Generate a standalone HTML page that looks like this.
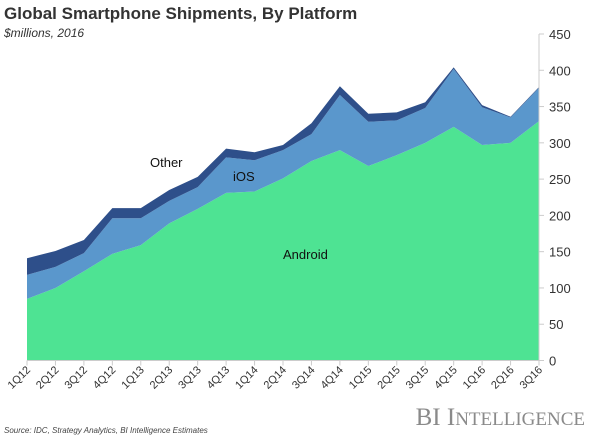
<!DOCTYPE html>
<html><head><meta charset="utf-8"><style>
body{margin:0;background:#fff;}
svg text{font-family:"Liberation Sans",sans-serif;}
</style></head><body>
<svg width="600" height="438" xmlns="http://www.w3.org/2000/svg">
<text x="4" y="19" font-size="17" font-weight="bold" fill="#333">Global Smartphone Shipments, By Platform</text>
<text x="4" y="37" font-size="12" font-style="italic" fill="#333">$millions, 2016</text>
<g id="plot"></g>
<text x="4" y="433" font-size="8" font-style="italic" fill="#444">Source: IDC, Strategy Analytics, BI Intelligence Estimates</text>
<text x="585" y="425" font-size="25" text-anchor="end" fill="#8a8a8a" font-family="Liberation Serif, serif" style="font-family:'Liberation Serif',serif">BI I<tspan font-size="19">NTELLIGENCE</tspan></text>
</svg>
<script>
const categories=["1Q12","2Q12","3Q12","4Q12","1Q13","2Q13","3Q13","4Q13","1Q14","2Q14","3Q14","4Q14","1Q15","2Q15","3Q15","4Q15","1Q16","2Q16","3Q16"];
const android=[85,100,123,147,159,189,209,231,233,251,275,290,268,283,300,322,297,300,330];
const ios=[33,29,25,49,37,31,30,49,43,39,37,76,61,48,48,80,52,35,46];
const other=[23,22,18,14,14,15,14,12,11,7,15,12,11,11,8,2,3,1,1];
const yTicks=[0,50,100,150,200,250,300,350,400,450];
const X0=27,X1=539,Y0=360.5,YMAX=34;
const x=i=>X0+i*(X1-X0)/(categories.length-1);
const y=v=>Y0-v*(Y0-YMAX)/450;
const g=document.getElementById('plot');
const NS="http://www.w3.org/2000/svg";
function mk(t,a){const e=document.createElementNS(NS,t);for(const k in a)e.setAttribute(k,a[k]);g.appendChild(e);return e;}
const base=categories.map(()=>0);
const series=[["android",android,"#4ee393"],["ios",ios,"#5a97cc"],["other",other,"#2e4f8a"]];
series.forEach(([n,vals,c])=>{
  const top=base.map((b,i)=>b+vals[i]);
  let d="M"+categories.map((_,i)=>x(i)+","+y(top[i])).join("L");
  for(let i=categories.length-1;i>=0;i--)d+="L"+x(i)+","+y(base[i]);
  const p=mk("path",{d:d+"Z",fill:c});
  
  
  top.forEach((t,i)=>base[i]=t);
});
const ax=mk("line",{x1:X1,x2:X1,y1:YMAX,y2:Y0,stroke:"#ccc"});


const bx=mk("line",{x1:X0,x2:X1,y1:Y0,y2:Y0,stroke:"#ccc"});


yTicks.forEach(v=>{
  const tl=mk("line",{x1:X1,x2:X1+5,y1:y(v),y2:y(v),stroke:"#ccc"});
  
  
  const t=mk("text",{x:X1+10,y:y(v)+5,"font-size":13,fill:"#333"});
  t.textContent=v;
  
  
});
categories.forEach((c,i)=>{
  const tl=mk("line",{x1:x(i),x2:x(i),y1:Y0,y2:Y0+5,stroke:"#ccc"});
  
  
  const t=mk("text",{x:x(i)+4,y:Y0+10,"font-size":11,fill:"#333","text-anchor":"end",transform:`rotate(-45 ${x(i)+4} ${Y0+10})`});
  t.textContent=c;
  
  
});
[["Other",150,167,"other"],["iOS",233,181,"ios"],["Android",283,259,"android"]].forEach(([s,lx,ly,n])=>{
  const t=mk("text",{x:lx,y:ly,"font-size":13,fill:"#111"});
  t.textContent=s;
  
  
});
</script>
</body></html>
